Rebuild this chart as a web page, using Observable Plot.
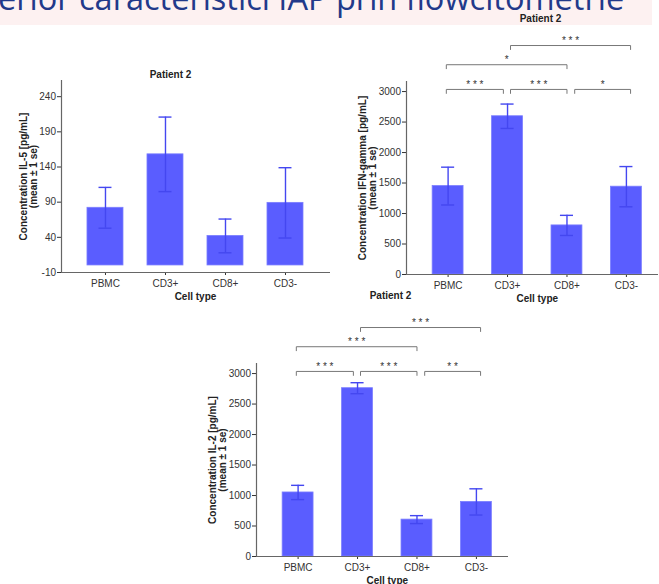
<!DOCTYPE html>
<html>
<head>
<meta charset="utf-8">
<script src="https://cdn.jsdelivr.net/npm/d3@7"></script>
<script src="https://cdn.jsdelivr.net/npm/@observablehq/plot@0.6"></script>
<style>
  html, body { margin: 0; padding: 0; background: #fff; }
  #page { position: relative; width: 659px; height: 584px; overflow: hidden; background: #fff; }
  #banner { position: absolute; left: 0; top: 0; width: 652px; height: 25px; background: #fdf1f1; overflow: hidden; }
  #banner span { position: absolute; left: -2px; top: -18px; font-family: "Open Sans", "Noto Sans", sans-serif; font-size: 32.5px; line-height: 32.5px; color: #22398a; white-space: nowrap; }
  .chart { position: absolute; left: 0; }
</style>
</head>
<body>
<div id="page">
  <div id="banner"><span>erior caracteristici IAP prin flowcitometrie</span></div>
</div>
<script>
// ---- data ----
const cellTypes = ["PBMC", "CD3+", "CD8+", "CD3-"];
const chartTitle = "Patient 2";
const xLabel = "Cell type";

const il5Mean = [82, 158, 42, 89];
const il5Se   = [29, 53, 24, 50];
const il5Ticks = [-10, 40, 90, 140, 190, 240];
const il5Label = "Concentration IL-5 [pg/mL]\n(mean ± 1 se)";

const ifnMean = [1450, 2595, 805, 1440];
const ifnSe   = [310, 200, 165, 330];
const ifnLabel = "Concentration IFN-gamma [pg/mL]\n(mean ± 1 se)";

const il2Mean = [1050, 2760, 605, 895];
const il2Se   = [117, 90, 65, 215];
const il2Label = "Concentration IL-2 [pg/mL]\n(mean ± 1 se)";

const cytoTicks = [0, 500, 1000, 1500, 2000, 2500, 3000];

const sigFrom  = ["PBMC", "CD3+", "CD8+", "PBMC", "CD3+"];
const sigTo    = ["CD3+", "CD8+", "CD3-", "CD8+", "CD3-"];
const sigLevel = [1, 1, 1, 2, 3];
const ifnStars = ["***", "***", "*", "*", "***"];
const il2Stars = ["***", "***", "**", "***", "***"];

// ---- styling ----
const BAR = "#5a5dff", BAR_EDGE = "#7b7eff", ERR = "#4447f0", AXIS = "#666", INK = "#222";
const FONT = "'Liberation Sans', Arial, sans-serif";
const LEVEL_Y = [3035, 3440, 3755];

function chart(o) {
  const rows = cellTypes.map((c, i) => ({c, i, m: o.mean[i], lo: o.mean[i] - o.se[i], hi: o.mean[i] + o.se[i]}));
  const marks = [
    Plot.rectY(rows, {x1: d => d.i - o.barHalf, x2: d => d.i + o.barHalf, y1: 0, y2: "m", fill: BAR, stroke: BAR_EDGE, strokeWidth: 0.8}),
    Plot.ruleX(rows, {x: "i", y1: "lo", y2: "hi", stroke: ERR, strokeWidth: 1.4}),
    Plot.ruleY(rows, {y: "hi", x1: d => d.i - o.capHalf, x2: d => d.i + o.capHalf, stroke: ERR, strokeWidth: 1.4}),
    Plot.ruleY(rows, {y: "lo", x1: d => d.i - o.capHalf, x2: d => d.i + o.capHalf, stroke: ERR, strokeWidth: 1.4}),
    Plot.ruleX([o.xDomain[0]], {stroke: AXIS, strokeWidth: 1.2}),
    Plot.ruleY([o.yDomain[0]], {stroke: AXIS, strokeWidth: 1.2}),
    Plot.text([o.label], {frameAnchor: "left", dx: o.labelDx, rotate: -90, text: d => d, textAnchor: "middle", lineAnchor: "middle", lineHeight: 1, fontWeight: "bold", fontSize: 10, fill: INK}),
    Plot.text([xLabel], {x: (cellTypes.length - 1) / 2, frameAnchor: "bottom", dy: 24.5, text: d => d, textAnchor: "middle", lineAnchor: "middle", fontWeight: "bold", fontSize: 10, fill: INK}),
    Plot.text([chartTitle], {frameAnchor: "top-left", dx: o.titleDx, dy: o.titleDy, text: d => d, textAnchor: "middle", lineAnchor: "middle", fontWeight: "bold", fontSize: 10, fill: INK})
  ];
  if (o.stars) {
    const sig = o.stars.map((s, k) => {
      const a = cellTypes.indexOf(sigFrom[k]), b = cellTypes.indexOf(sigTo[k]);
      return {k, s, xa: a * 1.08 - 0.03, xb: b * 1.07 - 0.14, y: LEVEL_Y[sigLevel[k] - 1]};
    });
    const pts = sig.flatMap(d => [
      {k: d.k, x: d.xa, y: d.y - 65}, {k: d.k, x: d.xa, y: d.y},
      {k: d.k, x: d.xb, y: d.y}, {k: d.k, x: d.xb, y: d.y - 65}
    ]);
    marks.push(
      Plot.line(pts, {x: "x", y: "y", z: "k", stroke: "#777", strokeWidth: 1}),
      Plot.text(sig, {x: d => (d.xa + d.xb) / 2, y: "y", text: d => d.s.split("").join(" "), dy: -4.5, textAnchor: "middle", lineAnchor: "middle", fontSize: 10, fill: "#333"})
    );
  }
  const svg = Plot.plot({
    width: 659,
    height: o.height,
    marginTop: o.marginTop,
    marginBottom: o.marginBottom,
    marginLeft: o.marginLeft,
    marginRight: o.marginRight,
    style: {fontFamily: FONT, fontSize: "10px", color: "#333", background: "transparent", overflow: "visible"},
    x: {type: "linear", domain: o.xDomain, ticks: cellTypes.map((c, i) => i), tickFormat: i => cellTypes[i], tickSize: 3, tickPadding: 4, label: null},
    y: {domain: o.yDomain, ticks: o.ticks, tickFormat: d => String(d), tickSize: 4, tickPadding: 1.5, label: null},
    marks
  });
  svg.classList.add("chart");
  svg.style.top = o.top + "px";
  svg.style.position = "absolute";
  svg.style.left = "0px";
  document.getElementById("page").appendChild(svg);
}

chart({mean: il5Mean, se: il5Se, ticks: il5Ticks, yDomain: [-10, 263], label: il5Label,
  top: 60, height: 245, marginTop: 20, marginBottom: 33, marginLeft: 61, marginRight: 329,
  xDomain: [-0.733, 3.75], barHalf: 0.3, capHalf: 0.108, labelDx: -33, titleDx: 109, titleDy: -6});

chart({mean: ifnMean, se: ifnSe, ticks: cytoTicks, yDomain: [0, 3165], label: ifnLabel, stars: ifnStars,
  top: 0, height: 310, marginTop: 81, marginBottom: 36, marginLeft: 406, marginRight: 1,
  xDomain: [-0.70, 3.54], barHalf: 0.26, capHalf: 0.11, labelDx: -39, titleDx: 134, titleDy: -62.7});

chart({mean: il2Mean, se: il2Se, ticks: cytoTicks, yDomain: [0, 3165], label: il2Label, stars: il2Stars,
  top: 285, height: 299, marginTop: 78, marginBottom: 28, marginLeft: 256, marginRight: 151,
  xDomain: [-0.70, 3.54], barHalf: 0.26, capHalf: 0.11, labelDx: -39, titleDx: 134, titleDy: -67.6});
</script>
</body>
</html>
